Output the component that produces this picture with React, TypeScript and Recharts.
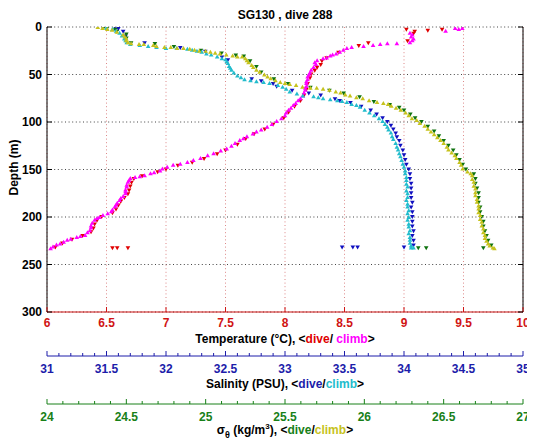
import React from 'react';
import { ScatterChart, Scatter, XAxis, YAxis, CartesianGrid } from 'recharts';

// ---------- tick labels ----------
const depthTicks = [0, 50, 100, 150, 200, 250, 300];
const tempTicks = [6, 6.5, 7, 7.5, 8, 8.5, 9, 9.5, 10];
const salinityLabels = [31, 31.5, 32, 32.5, 33, 33.5, 34, 34.5, 35];
const sigmaLabels = [24, 24.5, 25, 25.5, 26, 26.5, 27];
const salinityTicks = Array.from({ length: 41 }, (_, i) => Math.round((31 + i * 0.1) * 10) / 10);
const sigmaTicks = Array.from({ length: 31 }, (_, i) => Math.round((24 + i * 0.1) * 10) / 10);

// ---------- data: [depth (m), value] ----------
type P = [number, number];

const tempDive: P[] = [
  [3, 9.02], [4, 9.2], [5, 9.09], [7, 9.08], [3, 9.32], [15, 9.03], [17, 8.7], [20, 8.62], [27, 8.45],
  [33, 8.35], [36, 8.31], [40, 8.3], [43, 8.27], [46, 8.25], [50, 8.22], [54, 8.21], [60, 8.19], [66, 8.18],
  [72, 8.16], [78, 8.13], [84, 8.08], [90, 8.03], [96, 7.99], [103, 7.9], [108, 7.83], [113, 7.74],
  [118, 7.67], [124, 7.6], [130, 7.5], [134, 7.43], [139, 7.32], [143, 7.22], [146, 7.1], [150, 7.0],
  [153, 6.93], [157, 6.8], [160, 6.73], [164, 6.71], [168, 6.7], [172, 6.69], [176, 6.68], [180, 6.65],
  [184, 6.62], [188, 6.6], [192, 6.58], [196, 6.55], [200, 6.46], [204, 6.42], [208, 6.4], [212, 6.39],
  [216, 6.37], [220, 6.3], [224, 6.21], [228, 6.13], [232, 6.07], [233, 6.55], [233, 6.59], [233, 6.68],
];

const tempClimb: P[] = [
  [1, 9.49], [1, 9.43], [2, 9.46], [4, 9.35], [6, 9.05], [8, 9.07], [10, 9.06], [12, 9.08], [14, 9.07],
  [16, 9.05], [17, 8.94], [17, 8.86], [18, 8.8], [19, 8.74], [20, 8.66], [21, 8.56], [22, 8.52], [24, 8.49],
  [26, 8.46], [28, 8.43], [29, 8.4], [30, 8.38], [32, 8.35], [33, 8.32], [35, 8.27], [37, 8.25], [39, 8.26],
  [42, 8.24], [45, 8.22], [48, 8.21], [50, 8.2], [52, 8.19], [55, 8.19], [57, 8.18], [59, 8.18], [62, 8.18],
  [64, 8.17], [66, 8.17], [69, 8.16], [72, 8.15], [75, 8.13], [77, 8.11], [80, 8.09], [82, 8.07], [85, 8.05],
  [87, 8.03], [90, 8.01], [93, 8.0], [96, 7.97], [99, 7.93], [102, 7.89], [105, 7.85], [108, 7.8], [110, 7.76],
  [112, 7.73], [115, 7.68], [117, 7.65], [119, 7.62], [122, 7.58], [125, 7.55], [128, 7.51], [130, 7.46],
  [133, 7.4], [135, 7.35], [138, 7.29], [140, 7.23], [142, 7.18], [144, 7.12], [145, 7.06], [147, 7.01],
  [149, 6.97], [151, 6.95], [153, 6.9], [154, 6.87], [156, 6.82], [157, 6.78], [158, 6.74], [159, 6.7],
  [161, 6.69], [163, 6.68], [166, 6.67], [168, 6.67], [171, 6.66], [173, 6.66], [175, 6.66], [178, 6.64],
  [180, 6.62], [182, 6.61], [185, 6.59], [187, 6.58], [189, 6.57], [192, 6.55], [194, 6.54], [196, 6.51],
  [198, 6.47], [200, 6.44], [201, 6.42], [203, 6.4], [206, 6.38], [209, 6.37], [211, 6.37], [214, 6.36],
  [216, 6.34], [219, 6.32], [220, 6.28], [221, 6.25], [223, 6.2], [224, 6.17], [226, 6.14], [228, 6.11],
  [229, 6.08], [231, 6.05], [233, 6.03],
];

const salDive: P[] = [
  [0, 31.57], [2, 31.6], [5, 31.64], [10, 31.66], [17, 31.82], [22, 32.12], [26, 32.33], [32, 32.47],
  [35, 32.52], [55, 32.72], [57, 32.8], [60, 32.9], [63, 32.93], [67, 33.06], [70, 33.2], [72, 33.3],
  [76, 33.42], [78, 33.46], [80, 33.55], [84, 33.64], [88, 33.72], [92, 33.77], [96, 33.82], [100, 33.86],
  [104, 33.89], [108, 33.91], [112, 33.93], [116, 33.94], [120, 33.96], [125, 33.97], [130, 33.99],
  [135, 34.0], [140, 34.01], [145, 34.02], [150, 34.04], [155, 34.05], [160, 34.05], [165, 34.06],
  [170, 34.06], [175, 34.06], [180, 34.06], [185, 34.07], [190, 34.06], [195, 34.07], [200, 34.07],
  [205, 34.07], [210, 34.07], [215, 34.08], [220, 34.07], [225, 34.08], [230, 34.08], [232, 34.0],
  [232, 33.48], [232, 33.57], [232, 33.61],
];

const salClimb: P[] = [
  [1, 31.5], [2, 31.55], [4, 31.58], [6, 31.61], [9, 31.63], [12, 31.65], [14, 31.66], [16, 31.67],
  [18, 31.7], [19, 31.78], [20, 31.85], [21, 31.92], [22, 32.0], [22, 32.09], [23, 32.18], [24, 32.22],
  [25, 32.26], [26, 32.3], [28, 32.34], [29, 32.38], [31, 32.43], [33, 32.47], [34, 32.5], [36, 32.51],
  [38, 32.52], [41, 32.53], [43, 32.54], [45, 32.55], [48, 32.57], [51, 32.6], [53, 32.63], [55, 32.66],
  [56, 32.71], [57, 32.76], [58, 32.82], [59, 32.87], [61, 32.94], [63, 32.98], [65, 33.01], [68, 33.04],
  [70, 33.1], [72, 33.15], [73, 33.24], [74, 33.28], [75, 33.32], [76, 33.38], [77, 33.44], [78, 33.48],
  [79, 33.52], [81, 33.56], [82, 33.6], [84, 33.63], [87, 33.67], [90, 33.71], [93, 33.75], [96, 33.79],
  [99, 33.82], [102, 33.84], [105, 33.86], [108, 33.87], [111, 33.89], [115, 33.9], [118, 33.91],
  [122, 33.93], [126, 33.94], [129, 33.95], [133, 33.96], [136, 33.97], [140, 33.98], [144, 33.99],
  [147, 34.0], [151, 34.01], [154, 34.01], [158, 34.02], [161, 34.02], [165, 34.02], [168, 34.03],
  [172, 34.02], [175, 34.03], [179, 34.03], [182, 34.02], [186, 34.03], [189, 34.03], [193, 34.04],
  [196, 34.03], [200, 34.04], [203, 34.03], [207, 34.04], [210, 34.04], [214, 34.05], [217, 34.04],
  [221, 34.05], [224, 34.05], [227, 34.05], [230, 34.06], [232, 34.08], [232, 34.06],
];

const sigDive: P[] = [
  [0, 24.36], [1, 24.38], [3, 24.43], [5, 24.44], [8, 24.5], [12, 24.5], [17, 24.53], [18, 24.68],
  [21, 24.8], [25, 24.97], [28, 25.1], [30, 25.19], [31, 25.24], [36, 25.28], [42, 25.32], [48, 25.35],
  [55, 25.43], [60, 25.52], [64, 25.66], [67, 25.78], [70, 25.87], [74, 25.97], [79, 26.06], [82, 26.16],
  [85, 26.22], [88, 26.25], [92, 26.29], [96, 26.32], [100, 26.36], [105, 26.4], [110, 26.44],
  [115, 26.47], [120, 26.5], [125, 26.53], [130, 26.56], [135, 26.58], [140, 26.6], [145, 26.62],
  [150, 26.64], [155, 26.69], [160, 26.7], [165, 26.7], [170, 26.71], [175, 26.72], [180, 26.72],
  [185, 26.72], [190, 26.73], [195, 26.73], [200, 26.74], [205, 26.75], [210, 26.75], [215, 26.76],
  [220, 26.77], [225, 26.78], [230, 26.8], [233, 26.75], [233, 26.34], [233, 26.39],
];

const sigClimb: P[] = [
  [0, 24.32], [1, 24.35], [2, 24.38], [3, 24.41], [5, 24.44], [8, 24.48], [10, 24.49], [12, 24.5],
  [14, 24.5], [16, 24.51], [17, 24.53], [18, 24.58], [18, 24.61], [19, 24.67], [20, 24.69], [21, 24.74],
  [21, 24.78], [22, 24.82], [22, 24.86], [23, 24.9], [24, 24.93], [25, 24.96], [25, 25.0], [26, 25.03],
  [27, 25.06], [28, 25.09], [29, 25.13], [30, 25.17], [31, 25.2], [31, 25.23], [33, 25.25], [35, 25.26],
  [37, 25.27], [40, 25.29], [42, 25.3], [45, 25.32], [47, 25.34], [50, 25.37], [52, 25.39], [54, 25.41],
  [56, 25.44], [58, 25.47], [59, 25.5], [60, 25.53], [61, 25.57], [63, 25.61], [64, 25.66], [64, 25.7],
  [65, 25.74], [66, 25.78], [68, 25.82], [69, 25.85], [71, 25.88], [72, 25.91], [74, 25.95], [75, 25.99],
  [77, 26.03], [79, 26.08], [80, 26.12], [81, 26.15], [83, 26.17], [85, 26.2], [87, 26.23], [90, 26.26],
  [93, 26.28], [96, 26.3], [98, 26.33], [101, 26.35], [104, 26.38], [107, 26.4], [110, 26.42],
  [113, 26.44], [116, 26.46], [119, 26.48], [122, 26.5], [126, 26.52], [129, 26.53], [132, 26.55],
  [135, 26.57], [138, 26.58], [142, 26.6], [145, 26.61], [149, 26.62], [152, 26.65], [154, 26.67],
  [156, 26.68], [160, 26.68], [163, 26.69], [167, 26.69], [170, 26.7], [174, 26.7], [177, 26.7],
  [181, 26.71], [184, 26.71], [188, 26.72], [191, 26.72], [195, 26.72], [198, 26.73], [202, 26.73],
  [205, 26.74], [209, 26.74], [212, 26.75], [216, 26.75], [219, 26.76], [222, 26.76], [225, 26.77],
  [228, 26.78], [230, 26.79], [232, 26.81], [233, 26.82],
];

// ---------- styling ----------
const FONT = '"Liberation Sans", Arial, Helvetica, sans-serif';
const AX_RED = '#d01414';
const AX_BLUE = '#1c1caa';
const AX_GREEN = '#188018';
const C_RED = '#e00000';
const C_MAG = '#ff00ff';
const C_BLUE = '#1010c0';
const C_CYAN = '#22bccc';
const C_GREEN = '#0e720e';
const C_YEL = '#c6c21c';

const rows = (a: P[]) => a.map(([d, v]) => ({ d, v }));

const tri = (color: string, down: boolean) => (props: any) => {
  const { cx, cy } = props;
  if (cx == null || cy == null) return <g />;
  const w = 2.3;
  const h = 2.0;
  const path = down
    ? `M${cx - w},${cy - h}L${cx + w},${cy - h}L${cx},${cy + h}Z`
    : `M${cx - w},${cy + h}L${cx + w},${cy + h}L${cx},${cy - h}Z`;
  return <path d={path} fill={color} stroke="none" />;
};

const fmt = (v: number) => String(Math.round(v * 10) / 10);

const TempTick = (p: any) => (
  <g>
    <line x1={p.x} y1={p.y} x2={p.x} y2={p.y - 5} stroke={AX_RED} strokeWidth={1} />
    <text x={p.x} y={p.y + 15} textAnchor="middle" fill={AX_RED} fontSize={12} fontWeight="bold" fontFamily={FONT}>
      {fmt(p.payload.value)}
    </text>
  </g>
);

const TopTick = (p: any) => (
  <line x1={p.x} y1={p.y} x2={p.x} y2={p.y + 5} stroke={AX_RED} strokeWidth={1} />
);

const makeMinorTick = (color: string, labels: number[]) => (p: any) => {
  const v = p.payload.value;
  const major = labels.some((l) => Math.abs(l - v) < 1e-6);
  return (
    <g>
      <line x1={p.x} y1={p.y} x2={p.x} y2={p.y - (major ? 5 : 3)} stroke={color} strokeWidth={1} />
      {major && (
        <text x={p.x} y={p.y + 16.5} textAnchor="middle" fill={color} fontSize={12} fontWeight="bold" fontFamily={FONT}>
          {fmt(v)}
        </text>
      )}
    </g>
  );
};
const SalTick = makeMinorTick(AX_BLUE, salinityLabels);
const SigTick = makeMinorTick(AX_GREEN, sigmaLabels);

const DepthTick = (p: any) => (
  <g>
    <line x1={p.x} y1={p.y} x2={p.x + 5} y2={p.y} stroke="#000" strokeWidth={1} />
    <text x={p.x - 5} y={p.y + 4.3} textAnchor="end" fill="#000" fontSize={12} fontWeight="bold" fontFamily={FONT}>
      {p.payload.value}
    </text>
  </g>
);

const RightTick = (p: any) => (
  <line x1={p.x} y1={p.y} x2={p.x - 5} y2={p.y} stroke="#000" strokeWidth={1} />
);

const txt = { fontSize: 12, fontWeight: 'bold' as const, fontFamily: FONT };

const TempTitle = (props: any) => {
  const vb = props.viewBox;
  return (
    <text x={vb.x + vb.width / 2} y={vb.y + 31} textAnchor="middle" fill="#000" {...txt}>
      Temperature (°C), &lt;<tspan fill={C_RED}>dive</tspan>/ <tspan fill={C_MAG}>climb</tspan>&gt;
    </text>
  );
};

const SalTitle = (props: any) => {
  const vb = props.viewBox;
  return (
    <text x={vb.x + vb.width / 2} y={vb.y + 32} textAnchor="middle" fill="#000" {...txt}>
      Salinity (PSU), &lt;<tspan fill={AX_BLUE}>dive</tspan>/<tspan fill={C_CYAN}>climb</tspan>&gt;
    </text>
  );
};

const SigTitle = (props: any) => {
  const vb = props.viewBox;
  return (
    <text x={vb.x + vb.width / 2} y={vb.y + 29.5} textAnchor="middle" fill="#000" {...txt}>
      σ<tspan fontSize={9} dy={4}>θ</tspan>
      <tspan dy={-4}> (kg/m</tspan>
      <tspan fontSize={8} dy={-5}>3</tspan>
      <tspan dy={5}>), &lt;</tspan>
      <tspan fill={AX_GREEN}>dive</tspan>/<tspan fill={C_YEL}>climb</tspan>&gt;
    </text>
  );
};

// Depth label plus chart title (title centred over the plot area)
const DepthTitle = (props: any) => {
  const vb = props.viewBox;
  const cy = vb.y + vb.height / 2 - 2;
  const plotCx = vb.x + vb.width + 238;
  return (
    <g>
      <text x={6} y={cy} transform={`rotate(-90, 6, ${cy})`} textAnchor="middle" dominantBaseline="central" fill="#000" {...txt}>
        Depth (m)
      </text>
      <text x={plotCx} y={vb.y - 8.5} textAnchor="middle" fill="#000" {...txt}>
        SG130 , dive 288
      </text>
    </g>
  );
};

export default function App() {
  return (
    <ScatterChart width={527} height={434} margin={{ top: 19, right: 0, bottom: 0, left: 0 }}>
      <CartesianGrid xAxisId="x1" yAxisId="d" vertical={false} stroke="#444" strokeDasharray="1 2.6" />
      <CartesianGrid xAxisId="x1" yAxisId="d" horizontal={false} stroke="#d88" strokeDasharray="1 2.6" />
      <XAxis
        xAxisId="x0" orientation="top" type="number" dataKey="v" domain={[6, 10]} ticks={tempTicks}
        height={0} interval={0} tickSize={0} tickMargin={0} tickLine={false}
        axisLine={{ stroke: AX_RED }} tick={<TopTick />} allowDataOverflow
      />
      <XAxis
        xAxisId="x1" orientation="bottom" type="number" dataKey="v" domain={[6, 10]} ticks={tempTicks}
        height={44} interval={0} tickSize={0} tickMargin={0} tickLine={false}
        axisLine={{ stroke: AX_RED }} tick={<TempTick />} allowDataOverflow label={<TempTitle />}
      />
      <XAxis
        xAxisId="x2" orientation="bottom" type="number" dataKey="v" domain={[31, 35]} ticks={salinityTicks}
        height={48} interval={0} tickSize={0} tickMargin={0} tickLine={false}
        axisLine={{ stroke: AX_BLUE }} tick={<SalTick />} allowDataOverflow label={<SalTitle />}
      />
      <XAxis
        xAxisId="x3" orientation="bottom" type="number" dataKey="v" domain={[24, 27]} ticks={sigmaTicks}
        height={38} interval={0} tickSize={0} tickMargin={0} tickLine={false}
        axisLine={{ stroke: AX_GREEN }} tick={<SigTick />} allowDataOverflow label={<SigTitle />}
      />
      <YAxis
        yAxisId="d" orientation="left" type="number" dataKey="d" domain={[0, 300]} ticks={depthTicks} reversed
        width={39} interval={0} tickSize={0} tickMargin={0} tickLine={false}
        axisLine={{ stroke: '#000' }} tick={<DepthTick />} allowDataOverflow label={<DepthTitle />}
      />
      <YAxis
        yAxisId="r" orientation="right" type="number" dataKey="d" domain={[0, 300]} ticks={depthTicks} reversed
        width={12} interval={0} tickSize={0} tickMargin={0} tickLine={false}
        axisLine={{ stroke: '#000' }} tick={<RightTick />} allowDataOverflow
      />
      <Scatter xAxisId="x1" yAxisId="d" data={rows(tempDive)} shape={tri(C_RED, true)} isAnimationActive={false} />
      <Scatter xAxisId="x2" yAxisId="d" data={rows(salDive)} shape={tri(C_BLUE, true)} isAnimationActive={false} />
      <Scatter xAxisId="x3" yAxisId="d" data={rows(sigDive)} shape={tri(C_GREEN, true)} isAnimationActive={false} />
      <Scatter xAxisId="x1" yAxisId="d" data={rows(tempClimb)} shape={tri(C_MAG, false)} isAnimationActive={false} />
      <Scatter xAxisId="x2" yAxisId="d" data={rows(salClimb)} shape={tri(C_CYAN, false)} isAnimationActive={false} />
      <Scatter xAxisId="x3" yAxisId="d" data={rows(sigClimb)} shape={tri(C_YEL, false)} isAnimationActive={false} />
    </ScatterChart>
  );
}
